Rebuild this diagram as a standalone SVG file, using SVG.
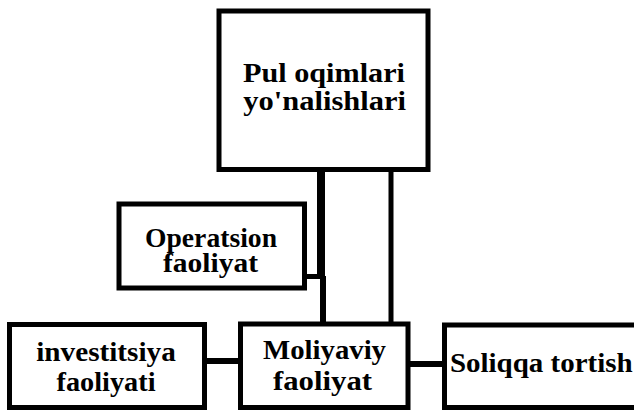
<svg xmlns="http://www.w3.org/2000/svg" width="634" height="410" viewBox="0 0 634 410">
  <style>
    .box { fill: #ffffff; stroke: #000000; stroke-width: 5; }
    .lbl { font-family: "Liberation Serif", "Times New Roman", serif; font-weight: bold; font-size: 28px; fill: #000000; text-anchor: middle; }
    .wire { stroke: #000000; fill: none; }
  </style>
  <rect width="634" height="410" fill="#ffffff"/>

  <g id="connectors">
    <!-- trunk from the top box down to the financing box -->
    <line class="wire" x1="321" y1="170" x2="321" y2="278" stroke-width="8"/>
    <line class="wire" x1="323" y1="276" x2="323" y2="325" stroke-width="6"/>
    <line class="wire" x1="391" y1="170" x2="391" y2="325" stroke-width="5"/>
    <!-- operating activity tap -->
    <line class="wire" x1="305" y1="276.5" x2="322" y2="276.5" stroke-width="5"/>
    <!-- bottom row links -->
    <line class="wire" x1="204" y1="361" x2="241" y2="361" stroke-width="6"/>
    <line class="wire" x1="408" y1="364" x2="445" y2="364" stroke-width="6"/>
  </g>

  <g id="node-pul-oqimlari">
    <rect class="box" x="219" y="11" width="209" height="158.5"/>
    <text class="lbl" x="324" y="82" textLength="162" lengthAdjust="spacingAndGlyphs">Pul oqimlari</text>
    <text class="lbl" x="324.6" y="109.5" textLength="162.7" lengthAdjust="spacingAndGlyphs">yo'nalishlari</text>
  </g>

  <g id="node-operatsion">
    <rect class="box" x="119" y="204" width="185.5" height="84"/>
    <text class="lbl" x="211" y="246.5" textLength="132" lengthAdjust="spacingAndGlyphs">Operatsion</text>
    <text class="lbl" x="210.5" y="271.5" textLength="95" lengthAdjust="spacingAndGlyphs">faoliyat</text>
  </g>

  <g id="node-investitsiya">
    <rect class="box" x="9.5" y="324.5" width="195" height="83"/>
    <text class="lbl" x="106" y="361" textLength="139.5" lengthAdjust="spacingAndGlyphs">investitsiya</text>
    <text class="lbl" x="106" y="391" textLength="99" lengthAdjust="spacingAndGlyphs">faoliyati</text>
  </g>

  <g id="node-moliyaviy">
    <rect class="box" x="240.5" y="324" width="167.5" height="83.5"/>
    <text class="lbl" x="324.5" y="359" textLength="123" lengthAdjust="spacingAndGlyphs">Moliyaviy</text>
    <text class="lbl" x="322.5" y="390" textLength="99" lengthAdjust="spacingAndGlyphs">faoliyat</text>
  </g>

  <g id="node-soliqqa">
    <rect class="box" x="444.5" y="325" width="195" height="82.5"/>
    <text class="lbl" x="541.3" y="372" textLength="182.7" lengthAdjust="spacingAndGlyphs">Soliqqa tortish</text>
  </g>
</svg>
